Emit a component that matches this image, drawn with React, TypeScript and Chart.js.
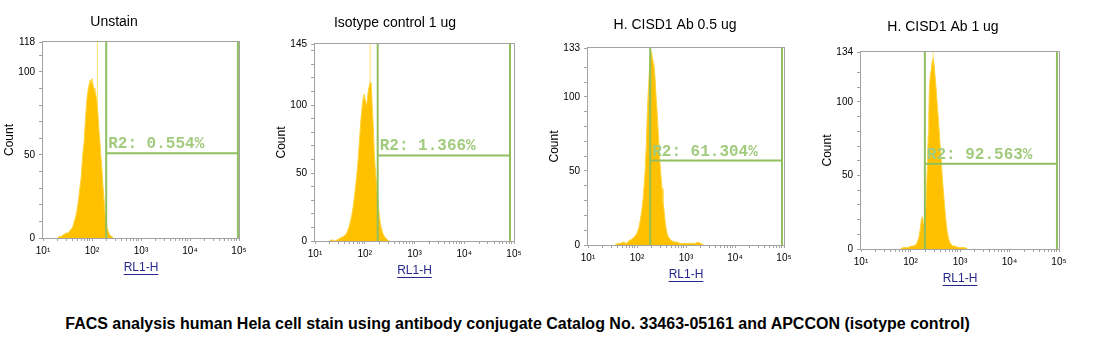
import React, { useEffect, useRef } from 'react';
import { Chart, registerables } from 'chart.js';

Chart.register(...registerables);

// ---------------- data ----------------
const panelTitles = ['Unstain', 'Isotype control 1 ug', 'H. CISD1 Ab 0.5 ug', 'H. CISD1 Ab 1 ug'];
const yMax = [118, 145, 133, 134];
const yLabeled = [
  [0, 50, 100, 118],
  [0, 50, 100, 145],
  [0, 50, 100, 133],
  [0, 50, 100, 134],
];
const xDecades = [10, 100, 1000, 10000, 100000];
const xTickLabels = ['10¹', '10²', '10³', '10⁴', '10⁵'];
const xAxisTitle = 'RL1-H';
const yAxisTitle = 'Count';

const unstainX = [20, 21.4, 24, 26.3, 29.5, 33.1, 36.3, 39.8, 42.7, 45.7, 49, 52.5, 56.2, 60.3, 64.6, 69.2, 72.4, 77.6, 83.2, 87.1, 91.2, 95.5, 100, 105, 110, 115, 120, 126, 132, 138, 145, 151, 158, 166, 174, 182, 191, 200, 214, 229, 251, 275];
const unstainY = [0, 1, 1, 2, 3, 3, 5, 6, 9, 12, 16, 22, 29, 37, 50, 58, 68, 82, 89, 92, 95, 93, 96, 92, 90, 88, 86, 82, 75, 66, 58, 50, 43, 33, 25, 17, 11, 7, 4, 2, 1, 0];

const isotypeX = [20, 21.4, 25.1, 28.2, 31.6, 35.5, 39.8, 43.7, 47.9, 51.3, 55, 58.9, 63.1, 67.6, 72.4, 77.6, 83.2, 89.1, 93.3, 97.7, 102, 107, 112, 117, 123, 129, 135, 141, 148, 155, 162, 170, 178, 186, 195, 204, 214, 229, 251, 282, 316];
const isotypeY = [0, 1, 0, 1, 2, 3, 4, 6, 10, 14, 19, 26, 35, 45, 56, 72, 88, 100, 105, 108, 104, 100, 103, 110, 114, 117, 116, 100, 85, 66, 54, 45, 36, 27, 20, 14, 10, 6, 3, 1, 0];

const ab05X = [35.5, 39.8, 45.7, 52.5, 60.3, 69.2, 79.4, 91.2, 100, 110, 117, 126, 135, 141, 148, 155, 162, 170, 178, 186, 195, 204, 214, 224, 234, 245, 257, 269, 282, 295, 309, 324, 339, 355, 372, 389, 417, 447, 501, 575, 661, 759, 891, 1047, 1259, 1514, 1778, 1995, 2291];
const ab05Y = [0, 1, 1, 2, 1, 3, 4, 6, 8, 12, 17, 24, 33, 42, 52, 68, 88, 104, 116, 126, 131, 127, 124, 120, 112, 100, 90, 78, 66, 55, 46, 38, 30, 24, 17, 12, 7, 5, 3, 2, 2, 1, 1, 1, 1, 1, 2, 1, 0];

const ab1X = [63.1, 70.8, 89.1, 105, 117, 129, 138, 148, 158, 166, 174, 182, 191, 200, 209, 219, 229, 234, 240, 251, 263, 275, 288, 302, 316, 331, 347, 363, 380, 398, 417, 437, 457, 479, 501, 525, 550, 589, 631, 708, 794, 912, 1047, 1259, 1413];
const ab1Y = [0, 1, 1, 2, 2, 3, 5, 8, 14, 20, 22, 18, 16, 22, 36, 56, 78, 90, 108, 118, 122, 128, 130, 124, 116, 108, 98, 90, 80, 70, 61, 50, 41, 33, 25, 18, 12, 7, 4, 2, 2, 1, 1, 1, 0];

const seriesX = [unstainX, isotypeX, ab05X, ab1X];
const seriesY = [unstainY, isotypeY, ab05Y, ab1Y];
const spikeX: (number | null)[] = [129, 128, null, 288];

const gateStart = [195, 182, 186, 195];
const gateEnd = [95000, 83000, 91000, 91000];
const gateLevel = [51, 63, 57, 58];
const gateLabels = ['R2: 0.554%', 'R2: 1.366%', 'R2: 61.304%', 'R2: 92.563%'];

const caption = 'FACS analysis human Hela cell stain using antibody conjugate Catalog No. 33463-05161 and APCCON (isotype control)';

// ---------------- layout / style ----------------
const plotBoxes = [
  { L: 43, R: 239, T: 42, B: 238, titleX: 114, titleY: 22 },
  { L: 315, R: 514, T: 44, B: 241, titleX: 395, titleY: 23 },
  { L: 588, R: 784, T: 48, B: 245, titleX: 675, titleY: 25 },
  { L: 861, R: 1059, T: 52, B: 249, titleX: 943, titleY: 27 },
];
const Y_AXIS_W = 43;
const X_AXIS_H = 40;
const PAD_R = 12;
const SANS = '"Liberation Sans", Arial, sans-serif';
const AXIS_GRAY = '#a3a3a3';
const GATE_GREEN = '#8fbf5e';
const GATE_TEXT = '#a2cb7e';
const FILL = 'rgb(255,192,0)';
const EDGE = 'rgb(255,212,60)';
const SPIKE = 'rgb(255,226,110)';
const LINK = '#28288c';

function Panel({ idx }: { idx: number }) {
  const ref = useRef<HTMLCanvasElement>(null);
  const box = plotBoxes[idx];
  const left = box.L - Y_AXIS_W;
  const width = box.R - left + PAD_R;
  const height = box.B + X_AXIS_H;

  useEffect(() => {
    const cv = ref.current!;
    const xs = seriesX[idx];
    const ys = seriesY[idx];
    const datasets: any[] = [
      {
        data: xs.map((x, k) => ({ x, y: ys[k] })),
        fill: 'origin',
        backgroundColor: FILL,
        borderColor: EDGE,
        borderWidth: 1,
        pointRadius: 0,
        tension: 0,
      },
    ];
    const s = spikeX[idx];
    if (s !== null) {
      datasets.push({
        data: [{ x: s, y: 0 }, { x: s, y: yMax[idx] * 1.5 }],
        fill: false,
        borderColor: SPIKE,
        borderWidth: 1,
        pointRadius: 0,
      });
    }

    const decor = {
      id: 'decor',
      afterDatasetsDraw(chart: any) {
        const { ctx, chartArea: a, scales } = chart;
        const xS = scales.x;
        const yS = scales.y;
        ctx.save();
        // plot frame
        ctx.strokeStyle = AXIS_GRAY;
        ctx.lineWidth = 1;
        ctx.strokeRect(Math.round(a.left) - 0.5, Math.round(a.top) - 0.5, Math.round(a.right - a.left) + 1, Math.round(a.bottom - a.top) + 1);
        // gate
        const gx1 = xS.getPixelForValue(gateStart[idx]);
        const gx2 = xS.getPixelForValue(gateEnd[idx]);
        const gy = yS.getPixelForValue(gateLevel[idx]);
        ctx.strokeStyle = GATE_GREEN;
        ctx.lineWidth = 2;
        ctx.beginPath();
        ctx.moveTo(gx1, a.top);
        ctx.lineTo(gx1, a.bottom);
        ctx.moveTo(gx2, a.top);
        ctx.lineTo(gx2, a.bottom);
        ctx.moveTo(gx1, gy);
        ctx.lineTo(gx2, gy);
        ctx.stroke();
        ctx.fillStyle = GATE_TEXT;
        ctx.font = 'bold 16px "Liberation Mono", "Courier New", monospace';
        ctx.textAlign = 'left';
        ctx.textBaseline = 'alphabetic';
        ctx.fillText(gateLabels[idx], gx1 + 2, gy - 5);
        ctx.restore();
      },
      afterDraw(chart: any) {
        const { ctx, chartArea: a, scales } = chart;
        ctx.save();
        // panel title
        ctx.fillStyle = '#000';
        ctx.font = '14px ' + SANS;
        ctx.textAlign = 'center';
        ctx.textBaseline = 'middle';
        ctx.fillText(panelTitles[idx], box.titleX - left, box.titleY);
        // underline of axis title
        ctx.font = '12px ' + SANS;
        const w = ctx.measureText(xAxisTitle).width;
        const cx = (a.left + a.right) / 2;
        const cy = scales.x.bottom - 7.2 - 3 + 6;
        ctx.strokeStyle = LINK;
        ctx.lineWidth = 1;
        ctx.beginPath();
        ctx.moveTo(cx - w / 2, Math.round(cy) + 0.5);
        ctx.lineTo(cx + w / 2, Math.round(cy) + 0.5);
        ctx.stroke();
        ctx.restore();
      },
    };

    const chart = new Chart(cv, {
      type: 'line',
      data: { datasets },
      plugins: [decor],
      options: {
        responsive: false,
        animation: false,
        devicePixelRatio: 1,
        layout: { padding: { left: 0, right: PAD_R, top: box.T, bottom: 0 } },
        plugins: { legend: { display: false }, tooltip: { enabled: false }, title: { display: false } },
        scales: {
          x: {
            type: 'logarithmic',
            position: 'bottom',
            min: xDecades[0],
            max: xDecades[xDecades.length - 1],
            afterBuildTicks: (scale: any) => {
              const t: any[] = [];
              for (let d = 0; d < xDecades.length - 1; d++) {
                for (let m = 1; m <= 9; m++) t.push({ value: m * xDecades[d] });
              }
              t.push({ value: xDecades[xDecades.length - 1] });
              scale.ticks = t;
            },
            afterFit: (scale: any) => {
              scale.height = X_AXIS_H;
            },
            ticks: {
              autoSkip: false,
              maxRotation: 0,
              minRotation: 0,
              padding: 4,
              color: '#000',
              font: { size: 10, family: SANS },
              callback: (v: any) => {
                const k = xDecades.indexOf(Number(v));
                return k >= 0 ? xTickLabels[k] : '';
              },
            },
            grid: { display: true, drawOnChartArea: false, drawTicks: true, tickLength: 3, color: AXIS_GRAY },
            border: { display: false },
            title: { display: true, text: xAxisTitle, color: LINK, font: { size: 12, family: SANS }, padding: { top: 0, bottom: 3 } },
          },
          y: {
            type: 'linear',
            position: 'left',
            min: 0,
            max: yMax[idx],
            afterBuildTicks: (scale: any) => {
              const t: any[] = [];
              for (let v = 0; v < yMax[idx] - 4; v += 10) t.push({ value: v });
              t.push({ value: yMax[idx] });
              scale.ticks = t;
            },
            afterFit: (scale: any) => {
              scale.width = Y_AXIS_W;
            },
            ticks: {
              autoSkip: false,
              padding: 4,
              color: '#000',
              font: { size: 10, family: SANS },
              callback: (v: any) => (yLabeled[idx].includes(Number(v)) ? String(v) : ''),
            },
            grid: { display: true, drawOnChartArea: false, drawTicks: true, tickLength: 4, color: AXIS_GRAY },
            border: { display: false },
            title: { display: true, text: yAxisTitle, color: '#000', font: { size: 12, family: SANS }, padding: { top: 2.3, bottom: 0 } },
          },
        },
      } as any,
    });
    return () => chart.destroy();
  }, [idx]);

  return (
    <div style={{ position: 'absolute', left, top: 0, width, height }}>
      <canvas ref={ref} width={width} height={height} style={{ width, height, display: 'block' }} />
    </div>
  );
}

export default function App() {
  return (
    <div>
      {plotBoxes.map((_, i) => (
        <Panel key={i} idx={i} />
      ))}
      <div
        style={{
          position: 'absolute',
          left: 0,
          top: 315,
          width: 1035,
          textAlign: 'center',
          font: 'bold 16px "Liberation Sans", Arial, sans-serif',
          lineHeight: '18px',
          color: '#000',
          whiteSpace: 'nowrap',
        }}
      >
        {caption}
      </div>
    </div>
  );
}
